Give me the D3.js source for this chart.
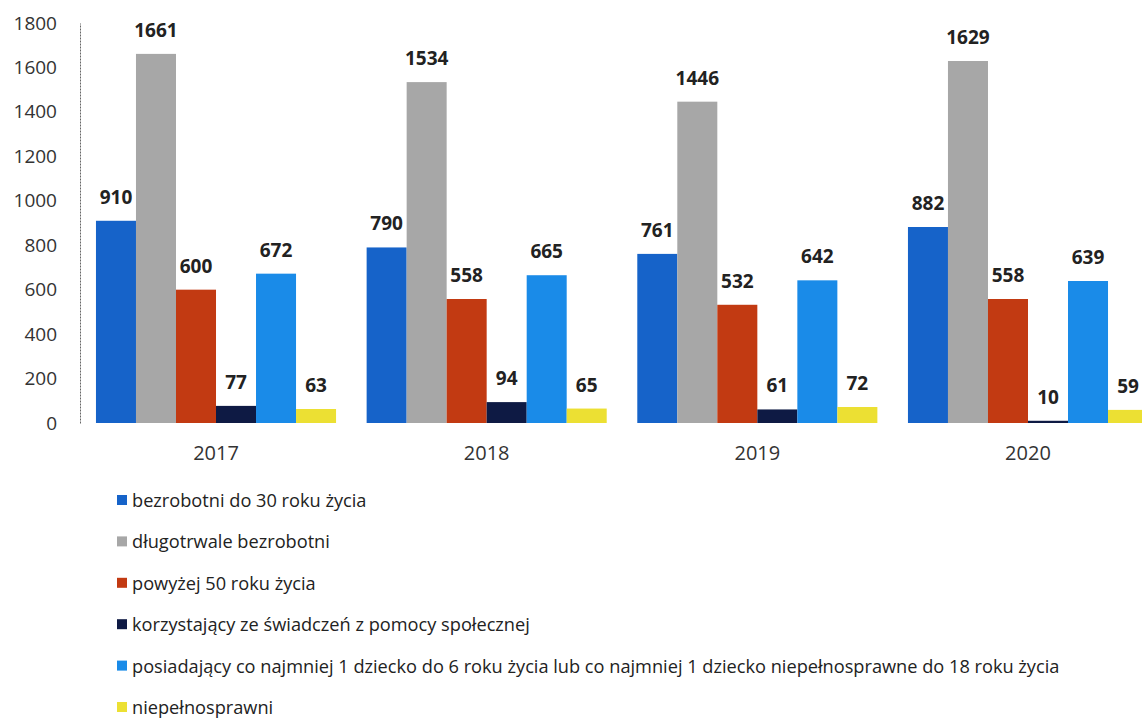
<!DOCTYPE html>
<html>
<head>
<meta charset="utf-8">
<script src="https://cdn.jsdelivr.net/npm/d3@7"></script>
<style>
  html, body { margin: 0; padding: 0; background: #fff; overflow: hidden; }
  svg { display: block; }
  text { font-family: "Open Sans", "Noto Sans", sans-serif; }
</style>
</head>
<body>
<svg id="chart" width="1142" height="719"></svg>
<script>
const years = ["2017", "2018", "2019", "2020"];
const seriesNames = [
  "bezrobotni do 30 roku życia",
  "długotrwale bezrobotni",
  "powyżej 50 roku życia",
  "korzystający ze świadczeń z pomocy społecznej",
  "posiadający co najmniej 1 dziecko do 6 roku życia lub co najmniej 1 dziecko niepełnosprawne do 18 roku życia",
  "niepełnosprawni"
];
const bezrobotniDo30 = [910, 790, 761, 882];
const dlugotrwale = [1661, 1534, 1446, 1629];
const powyzej50 = [600, 558, 532, 558];
const korzystajacy = [77, 94, 61, 10];
const posiadajacy = [672, 665, 642, 639];
const niepelnosprawni = [63, 65, 72, 59];
const seriesValues = [bezrobotniDo30, dlugotrwale, powyzej50, korzystajacy, posiadajacy, niepelnosprawni];
const colors = ["#1663C9", "#A7A7A7", "#C23A12", "#0E1A44", "#1A8BE8", "#ECE033"];
const yTicks = [0, 200, 400, 600, 800, 1000, 1200, 1400, 1600, 1800];

const svg = d3.select("#chart");

const x0 = d3.scaleBand().domain(years).range([80, 1164]).paddingInner(0.113).paddingOuter(0.059);
const x1 = d3.scaleBand().domain(d3.range(seriesNames.length)).range([0, x0.bandwidth()]).padding(0);
const y = d3.scaleLinear().domain([0, 1800]).range([423, 23]);

// y axis
const yAxis = svg.append("g")
  .attr("transform", "translate(80,0)")
  .call(d3.axisLeft(y).tickValues(yTicks).tickSize(0).tickPadding(23).tickFormat(d3.format("d")));
yAxis.select(".domain").attr("stroke", "#666").attr("stroke-width", 1).attr("stroke-dasharray", "2,1");
yAxis.selectAll("text").attr("font-size", 19).attr("fill", "#333").attr("font-family", "'Open Sans', sans-serif");

// bars
const groups = svg.append("g").selectAll("g")
  .data(years)
  .join("g")
  .attr("transform", d => `translate(${x0(d)},0)`);

groups.selectAll("rect")
  .data((d, i) => seriesValues.map((arr, s) => ({ s, v: arr[i] })))
  .join("rect")
  .attr("x", d => x1(d.s))
  .attr("width", x1.bandwidth())
  .attr("y", d => y(d.v))
  .attr("height", d => y(0) - y(d.v))
  .attr("fill", d => colors[d.s]);

groups.selectAll("text.val")
  .data((d, i) => seriesValues.map((arr, s) => ({ s, v: arr[i] })))
  .join("text")
  .attr("class", "val")
  .attr("x", d => x1(d.s) + x1.bandwidth() / 2)
  .attr("y", d => y(d.v) - 17)
  .attr("text-anchor", "middle")
  .attr("font-size", 19)
  .attr("font-weight", "bold")
  .attr("fill", "#222")
  .text(d => d.v);

// x labels
svg.append("g").selectAll("text")
  .data(years)
  .join("text")
  .attr("x", d => x0(d) + x0.bandwidth() / 2)
  .attr("y", 460)
  .attr("text-anchor", "middle")
  .attr("font-size", 20)
  .attr("fill", "#333")
  .text(d => d);

// legend
const leg = svg.append("g").selectAll("g")
  .data(seriesNames)
  .join("g")
  .attr("transform", (d, i) => `translate(117,${507 + i * 41.4})`);
leg.append("rect")
  .attr("x", 0).attr("y", -12).attr("width", 10).attr("height", 10)
  .attr("fill", (d, i) => colors[i]);
leg.append("text")
  .attr("x", 15).attr("y", 0)
  .attr("font-size", 18.2)
  .attr("fill", "#222")
  .text(d => d);
</script>
</body>
</html>
